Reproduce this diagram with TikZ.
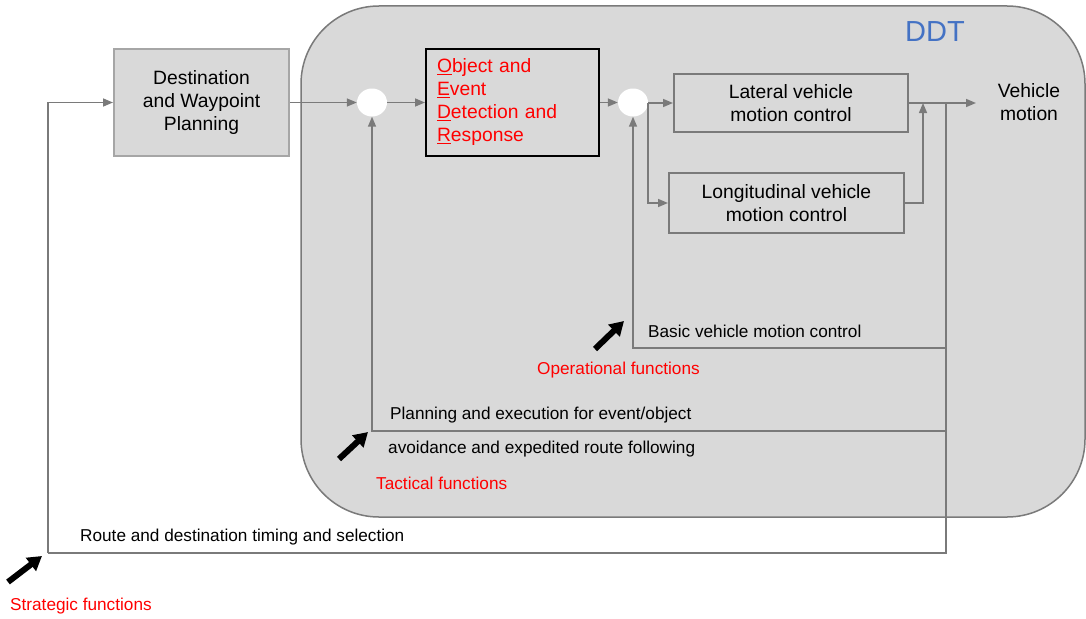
\documentclass[tikz,border=0pt]{standalone}
\usepackage{fontspec}
\setmainfont{Liberation Sans}
\usetikzlibrary{arrows.meta,shapes.geometric}

\definecolor{panel}{HTML}{D9D9D9}
\definecolor{wire}{HTML}{7A7A7A}
\definecolor{lightedge}{HTML}{A6A6A6}
\definecolor{ddtblue}{HTML}{4472C4}
\definecolor{fnred}{HTML}{FF0000}

\tikzset{
  boxfont/.style={font=\fontsize{19.3}{23}\selectfont},
  smallfont/.style={font=\fontsize{17.2}{20}\selectfont},
  wireline/.style={draw=wire, line width=1.5pt},
  conn/.style={wireline, -{Triangle[length=10pt,width=8pt]}},
  planbox/.style={draw=lightedge, line width=2pt, fill=panel, boxfont,
    align=center, minimum width=175pt, minimum height=107pt, inner sep=0pt},
  ctrlbox/.style={draw=wire, line width=2pt, boxfont, align=center, inner sep=0pt},
  detbox/.style={draw=black, line width=2pt, boxfont, text=fnred, align=left,
    text width=151pt, inner xsep=11pt, inner ysep=0pt, minimum height=107pt},
  junction/.style={ellipse, fill=white, draw=none, minimum width=30pt,
    minimum height=28pt, inner sep=0pt},
  label/.style={smallfont, anchor=west, inner sep=0pt},
  fnlabel/.style={label, text=fnred},
  pointer/.style={line width=6pt, black, -{Triangle[length=14pt,width=16pt]}},
}

\begin{document}
\begin{tikzpicture}[x=1pt, y=-1pt]
  \useasboundingbox (0,0) rectangle (1086,618);

  % dynamic driving task panel
  \draw[wire, line width=1.5pt, fill=panel, rounded corners=78pt]
    (301,6) rectangle (1085,517);
  \node[text=ddtblue, font=\fontsize{29}{32}\selectfont, inner sep=0pt] (ddt) at (935,32) {DDT};

  % blocks
  \node[planbox] (dest) at (201.5,102.5) {Destination\\and Waypoint\\Planning};
  \node[junction] (c1) at (372,102.5) {};
  \node[detbox] (oddr) at (512.5,102.5)
    {\underline{O}bject and\\\underline{E}vent\\\underline{D}etection and\\\underline{R}esponse};
  \node[junction] (c2) at (633,102.5) {};
  \node[ctrlbox, minimum width=234pt, minimum height=58pt] (lat) at (791,103)
    {Lateral vehicle\\motion control};
  \node[ctrlbox, minimum width=235pt, minimum height=60pt] (lon) at (786.5,203)
    {Longitudinal vehicle\\motion control};
  \node[boxfont, align=center, inner sep=0pt] (vm) at (1029,102) {Vehicle\\motion};

  % routing points
  \coordinate (sw) at (48,553);
  \coordinate (merge) at (923,103);
  \coordinate (tap) at (946,103);
  \coordinate (out) at (976,103);
  \coordinate (fbS) at (946,553);
  \coordinate (fbBr) at (946,348);
  \coordinate (fbBl) at (633,348);
  \coordinate (fbTr) at (946,431);
  \coordinate (fbTl) at (372,431);

  % forward path
  \draw[conn] (sw) |- (dest.west);
  \draw[conn] (dest.east) -- (c1.west);
  \draw[conn] (c1.east) -- (oddr.west);
  \draw[conn] (oddr.east) -- (c2.west);
  \draw[conn] (c2.east |- lat.west) -- (lat.west);
  \draw[conn] (c2.east |- lat.west) |- (lon.west);
  \draw[conn] (lon.east) -| (merge);
  \draw[conn] (lat.east) -- (out);

  % feedback loops
  \draw[wireline] (tap) -- (fbS) -- (sw);
  \draw[conn] (fbBr) -- (fbBl) -- (c2.south);
  \draw[conn] (fbTr) -- (fbTl) -- (c1.south);

  % loop labels
  \node[label] (lb) at (648,331) {Basic vehicle motion control};
  \node[fnlabel] (op) at (537,370) {Operational functions};
  \node[label] (lt1) at (390,415) {Planning and execution for event/object};
  \node[label] (lt2) at (388,449) {avoidance and expedited route following};
  \node[fnlabel] (tac) at (376,483) {Tactical functions};
  \node[label] (ls) at (80,537) {Route and destination timing and selection};
  \node[fnlabel] (str) at (10,606) {Strategic functions};

  % level pointers
  \coordinate (opA) at (595,349);
  \coordinate (opB) at (624,321);
  \coordinate (taA) at (339,459);
  \coordinate (taB) at (368,432);
  \coordinate (stA) at (8,582);
  \coordinate (stB) at (42,556);
  \draw[pointer] (opA) -- (opB);
  \draw[pointer] (taA) -- (taB);
  \draw[pointer] (stA) -- (stB);
\end{tikzpicture}
\end{document}
